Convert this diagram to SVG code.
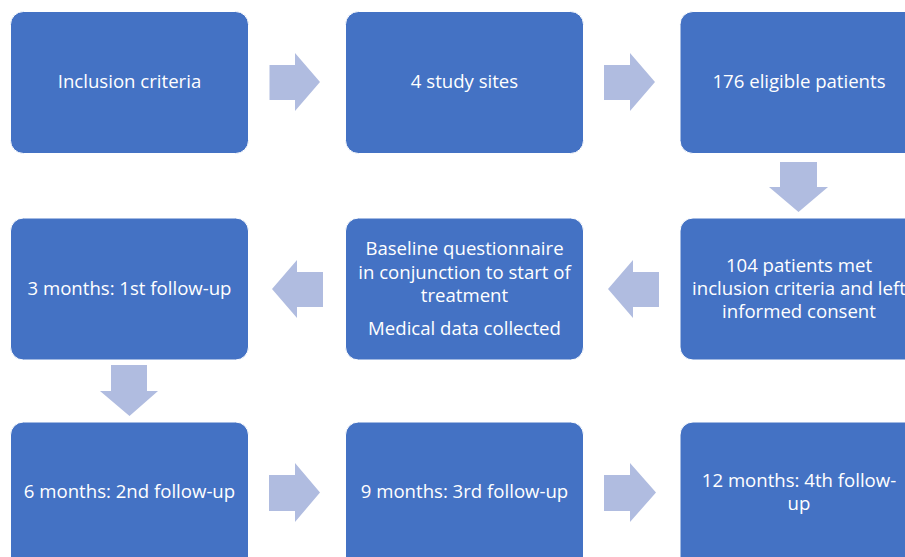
<svg xmlns="http://www.w3.org/2000/svg" width="905" height="557" viewBox="0 0 905 557">
<style>
.box{fill:#4472C4;stroke:#ffffff;stroke-width:1}
.arr{fill:#B0BCE0}
text{font-family:"Open Sans","Liberation Sans",sans-serif;font-size:18.6px;fill:#ffffff;text-anchor:middle}
</style>
<rect width="905" height="557" fill="#ffffff"/>
<g id="n1"><rect class="box" x="10.5" y="11.5" width="238" height="142" rx="13"/><text x="129.5" y="88">Inclusion criteria</text></g>
<g id="n2"><rect class="box" x="345.5" y="11.5" width="238" height="142" rx="13"/><text x="464.5" y="88">4 study sites</text></g>
<g id="n3"><rect class="box" x="680" y="11.5" width="238" height="142" rx="13"/><text x="799" y="88">176 eligible patients</text></g>
<g id="n4"><rect class="box" x="680" y="218" width="238" height="142" rx="13"/><text x="799" y="272">104 patients met</text><text x="799" y="295">inclusion criteria and left</text><text x="799" y="318">informed consent</text></g>
<g id="n5"><rect class="box" x="345.5" y="218" width="238" height="142" rx="13"/><text x="464.5" y="255">Baseline questionnaire</text><text x="464.5" y="278.5">in conjunction to start of</text><text x="464.5" y="302">treatment</text><text x="464.5" y="335">Medical data collected</text></g>
<g id="n6"><rect class="box" x="10.5" y="218" width="238" height="142" rx="13"/><text x="129.5" y="295">3 months: 1st follow-up</text></g>
<g id="n7"><rect class="box" x="10.5" y="422" width="238" height="150" rx="13"/><text x="129.5" y="498">6 months: 2nd follow-up</text></g>
<g id="n8"><rect class="box" x="345.5" y="422" width="238" height="150" rx="13"/><text x="464.5" y="498">9 months: 3rd follow-up</text></g>
<g id="n9"><rect class="box" x="680" y="422" width="238" height="150" rx="13"/><text x="799" y="487">12 months: 4th follow-</text><text x="799" y="510">up</text></g>
<g id="connectors">
<polygon class="arr" points="269.5,65 295,65 295,53 320,82 295,111 295,100 269.5,100"/>
<polygon class="arr" points="604,65 630,65 630,53 655,82 630,111 630,100 604,100"/>
<polygon class="arr" points="780,162 817,162 817,187 828,187 798.5,212 769,187 780,187"/>
<polygon class="arr" points="659,272 633,272 633,260 608,289 633,318 633,307 659,307"/>
<polygon class="arr" points="323,272 297,272 297,260 272,289 297,318 297,307 323,307"/>
<polygon class="arr" points="111,365 147,365 147,391 158,391 129.5,416 100,391 111,391"/>
<polygon class="arr" points="269,475 295,475 295,463 320,492.5 295,522 295,511 269,511"/>
<polygon class="arr" points="604,475 630,475 630,463 656,492.5 630,522 630,511 604,511"/>
</g>
</svg>
